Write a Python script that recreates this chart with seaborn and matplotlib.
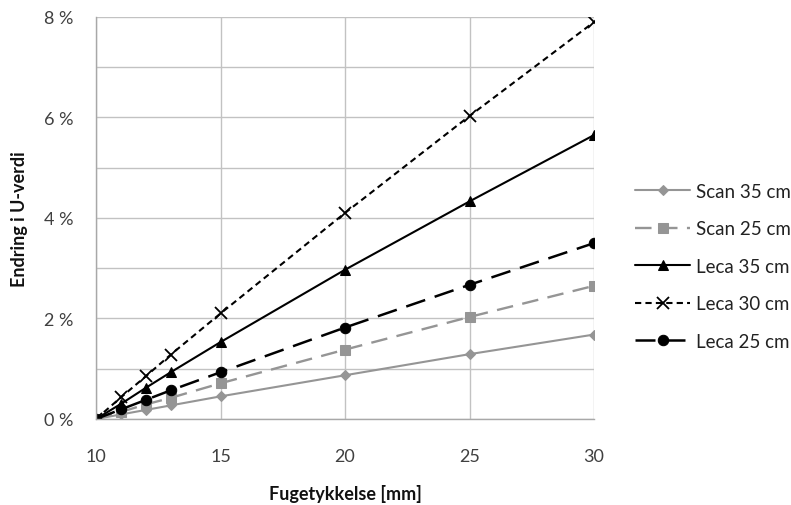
import matplotlib
matplotlib.use("Agg")
import matplotlib.pyplot as plt
from matplotlib.ticker import FuncFormatter, MultipleLocator
import seaborn as sns
import pandas as pd

# Joint thickness [mm]
fugetykkelse = [10, 11, 12, 13, 15, 20, 25, 30]

# Change in U-value [%] per wall type
scan_35 = [0.0, 0.09, 0.18, 0.27, 0.45, 0.87, 1.29, 1.68]
scan_25 = [0.0, 0.14, 0.29, 0.42, 0.71, 1.38, 2.03, 2.65]
leca_35 = [0.0, 0.30, 0.62, 0.93, 1.53, 2.97, 4.33, 5.65]
leca_30 = [0.0, 0.43, 0.85, 1.28, 2.10, 4.10, 6.03, 7.90]
leca_25 = [0.0, 0.19, 0.38, 0.57, 0.93, 1.82, 2.67, 3.50]

series_names = ["Scan 35 cm", "Scan 25 cm", "Leca 35 cm", "Leca 30 cm", "Leca 25 cm"]
series_values = [scan_35, scan_25, leca_35, leca_30, leca_25]

GRAY = "#959595"
styles = {
    "Scan 35 cm": dict(color=GRAY, marker="D", markersize=5, linestyle="-", linewidth=1.5),
    "Scan 25 cm": dict(color=GRAY, marker="s", markersize=7, linestyle=(0, (7, 4)), linewidth=1.7),
    "Leca 35 cm": dict(color="black", marker="^", markersize=7.5, linestyle="-", linewidth=1.5),
    "Leca 30 cm": dict(color="black", marker="x", markersize=8, markeredgewidth=1.3,
                       linestyle=(0, (3, 2)), linewidth=1.5),
    "Leca 25 cm": dict(color="black", marker="o", markersize=7.5, linestyle=(0, (8, 4)), linewidth=1.8),
}

rows = []
for name, vals in zip(series_names, series_values):
    for x, v in zip(fugetykkelse, vals):
        rows.append({"Fugetykkelse": x, "Endring": v, "Serie": name})
df = pd.DataFrame(rows)

sns.set_style("white")
plt.rcParams["font.family"] = ["Lato", "DejaVu Sans"]

fig = plt.figure(figsize=(7.91, 5.06), dpi=100)
ax = fig.add_axes([0.1214, 0.170, 0.6296, 0.7945])

for name in series_names:
    sub = df[df["Serie"] == name]
    sns.lineplot(data=sub, x="Fugetykkelse", y="Endring", ax=ax, label=name,
                 markeredgecolor=styles[name]["color"], **styles[name])

ax.set_xlim(10, 30)
ax.set_ylim(0, 8)
ax.xaxis.set_major_locator(MultipleLocator(5))
ax.yaxis.set_major_locator(MultipleLocator(2))
ax.yaxis.set_minor_locator(MultipleLocator(1))
ax.yaxis.set_major_formatter(FuncFormatter(lambda v, p: f"{v:.0f} %"))

grid_c = "#c2c2c2"
ax.grid(True, which="major", axis="both", color=grid_c, linewidth=1.0)
ax.grid(True, which="minor", axis="y", color=grid_c, linewidth=1.0)
ax.set_axisbelow(True)

for side in ["top", "right"]:
    ax.spines[side].set_visible(False)
for side in ["left", "bottom"]:
    ax.spines[side].set_color("#a8a8a8")
    ax.spines[side].set_linewidth(1.0)

ax.tick_params(axis="both", which="major", direction="out", length=5, width=1,
               color="#a8a8a8", labelsize=13, labelcolor="#404040")
ax.tick_params(axis="x", which="major", pad=16)
ax.tick_params(axis="y", which="major", pad=11)
ax.tick_params(axis="y", which="minor", length=0)

ax.set_xlabel("Fugetykkelse [mm]", fontsize=13, fontweight="bold", color="#111111")
ax.set_ylabel("Endring i U-verdi", fontsize=13, fontweight="bold", color="#111111")
ax.xaxis.set_label_coords(0.5, -0.162)
ax.yaxis.set_label_coords(-0.137, 0.5)

leg = ax.legend(loc="center left", bbox_to_anchor=(0.803, 0.472),
                bbox_transform=fig.transFigure, frameon=False,
                fontsize=13.5, labelspacing=1.09, handlelength=2.93, handletextpad=0.32,
                borderpad=0, borderaxespad=0, labelcolor="#222222")

fig.savefig("out.png", dpi=100)
